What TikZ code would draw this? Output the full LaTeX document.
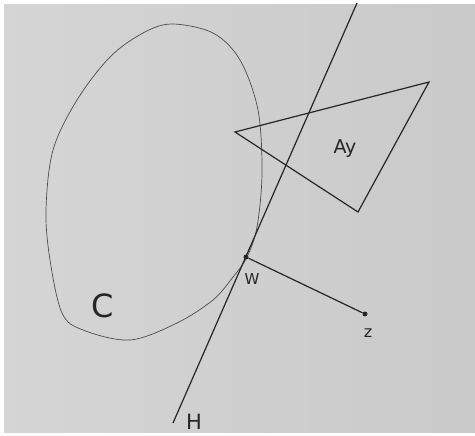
\documentclass[tikz,border=0pt]{standalone}
\usepackage{fontspec}
\setmainfont{DejaVu Sans}
\begin{document}
\begin{tikzpicture}[x=1pt, y=-1pt,
  pen/.style={line width=1.2pt, draw=black!85},
  dot/.style={circle, fill=black!85, inner sep=0pt, minimum size=5pt},
  lbl/.style={inner sep=0pt, text=black!85}]
\useasboundingbox (0,0) rectangle (475,436);
\fill[white] (0,0) rectangle (475,436);
\shade[left color=gray!33, right color=gray!42] (4,5) rectangle (475,432);
% the set C
\draw[line width=0.7pt, black!70] plot[smooth cycle, tension=0.55] coordinates {
  (172,24) (143,33) (110,57) (77,100) (53,150) (46,210) (50,260) (62,313)
  (83,330) (130,340) (177,323) (213,300) (233,277) (247,257) (257,227)
  (262,173) (258,110) (240,60) (213,33)};
% hyperplane H
\coordinate (htop) at (357,3);
\coordinate (hbot) at (173,423);
\draw[pen] (htop) -- (hbot);
% the set Ay
\coordinate (a1) at (235,132);
\coordinate (a2) at (429,82);
\coordinate (a3) at (358,212);
\draw[pen] (a1) -- (a2) -- (a3) -- cycle;
% points w and z
\node[dot] (w) at (246,257) {};
\node[dot] (z) at (365,314) {};
\draw[pen] (w) -- (z);
\node[lbl, font=\fontsize{15}{15}\selectfont] (wl) at (252,279) {W};
\node[lbl, font=\fontsize{16}{16}\selectfont] (zl) at (368,333) {z};
\node[lbl, font=\fontsize{19}{19}\selectfont] (ay) at (345,149) {Ay};
\node[lbl, font=\fontsize{32}{32}\selectfont] (cl) at (103,306) {C};
\node[lbl, font=\fontsize{21}{21}\selectfont] (hl) at (194,422) {H};
\end{tikzpicture}
\end{document}
